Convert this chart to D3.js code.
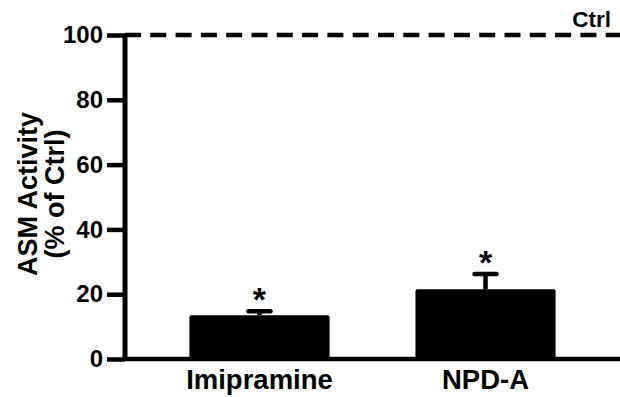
<!DOCTYPE html>
<html>
<head>
<meta charset="utf-8">
<script src="https://cdn.jsdelivr.net/npm/d3@7"></script>
<style>
  html, body { margin: 0; padding: 0; background: #fff; }
  svg { display: block; }
  text { font-family: 'Liberation Sans', Arial, sans-serif; font-weight: bold; fill: #000; }
</style>
</head>
<body>
<div id="chart"></div>
<script>
/* global d3 */

// chart data
const categories = ['Imipramine', 'NPD-A'];
const means = [13.5, 21.5];
const errors = [1.2, 4.7];
const stars = ['*', '*'];
const yTicks = [0, 20, 40, 60, 80, 100];
const ctrlValue = 100;

const width = 620;
const height = 397;

// draws the whole figure
const init = () => {
  const svg = d3.select('#chart').append('svg')
    .attr('width', width)
    .attr('height', height);

  const x = d3.scaleBand()
    .domain(categories)
    .range([125, 620])
    .paddingInner(0.38)
    .paddingOuter(0.285);

  const y = d3.scaleLinear()
    .domain([0, 100])
    .range([359, 35]);

  // bars
  svg.selectAll('.bar')
    .data(categories)
    .enter()
    .append('rect')
    .attr('class', 'bar')
    .attr('x', d => x(d))
    .attr('width', x.bandwidth())
    .attr('y', (d, i) => y(means[i]))
    .attr('height', (d, i) => y(0) - y(means[i]))
    .attr('rx', 2)
    .attr('fill', '#000');

  // error bars (upper only)
  const errG = svg.append('g')
    .attr('stroke', '#000')
    .attr('stroke-width', 4.5);

  categories.forEach((c, i) => {
    const cx = x(c) + x.bandwidth() / 2;
    const top = y(means[i] + errors[i]);
    errG.append('line')
      .attr('x1', cx).attr('x2', cx)
      .attr('y1', y(means[i])).attr('y2', top);
    errG.append('line')
      .attr('x1', cx - 11).attr('x2', cx + 11)
      .attr('y1', top).attr('y2', top)
      .attr('stroke-linecap', 'round');

    // significance star
    svg.append('text')
      .attr('x', cx)
      .attr('y', top)
      .attr('text-anchor', 'middle')
      .attr('font-size', 34)
      .text(stars[i]);
  });

  // control reference line
  svg.append('line')
    .attr('x1', 125).attr('x2', width)
    .attr('y1', y(ctrlValue)).attr('y2', y(ctrlValue))
    .attr('stroke', '#000')
    .attr('stroke-width', 4.5)
    .attr('stroke-dasharray', '16,9.3');

  svg.append('text')
    .attr('x', 611)
    .attr('y', 27)
    .attr('text-anchor', 'end')
    .attr('font-size', 22.5)
    .text('Ctrl');

  // y axis
  const yAxis = svg.append('g')
    .attr('transform', 'translate(125,0)')
    .call(d3.axisLeft(y).tickValues(yTicks).tickSize(18).tickPadding(4));

  yAxis.select('.domain')
    .attr('d', `M0,${y(100)}V${y(0)}`)
    .attr('stroke', '#000')
    .attr('stroke-width', 5);
  yAxis.selectAll('.tick line')
    .attr('stroke', '#000')
    .attr('stroke-width', 4.5);
  yAxis.selectAll('.tick text')
    .attr('font-size', 24)
    .attr('font-family', "'Liberation Sans', Arial, sans-serif")
    .attr('font-weight', 'bold')
    .attr('fill', '#000');

  // x baseline
  svg.append('line')
    .attr('x1', 125).attr('x2', width)
    .attr('y1', y(0)).attr('y2', y(0))
    .attr('stroke', '#000')
    .attr('stroke-width', 4.5);

  // category labels
  svg.selectAll('.cat')
    .data(categories)
    .enter()
    .append('text')
    .attr('class', 'cat')
    .attr('x', d => x(d) + x.bandwidth() / 2)
    .attr('y', 389)
    .attr('text-anchor', 'middle')
    .attr('font-size', 27.5)
    .text(d => d);

  // y axis title, two lines
  const title = svg.append('text')
    .attr('transform', 'translate(0,194) rotate(-90)')
    .attr('text-anchor', 'middle')
    .attr('font-size', 27);
  title.append('tspan').attr('x', 0).attr('y', 37).text('ASM Activity');
  title.append('tspan').attr('x', 0).attr('y', 64).text('(% of Ctrl)');
};

window.onload = init;
</script>
</body>
</html>
